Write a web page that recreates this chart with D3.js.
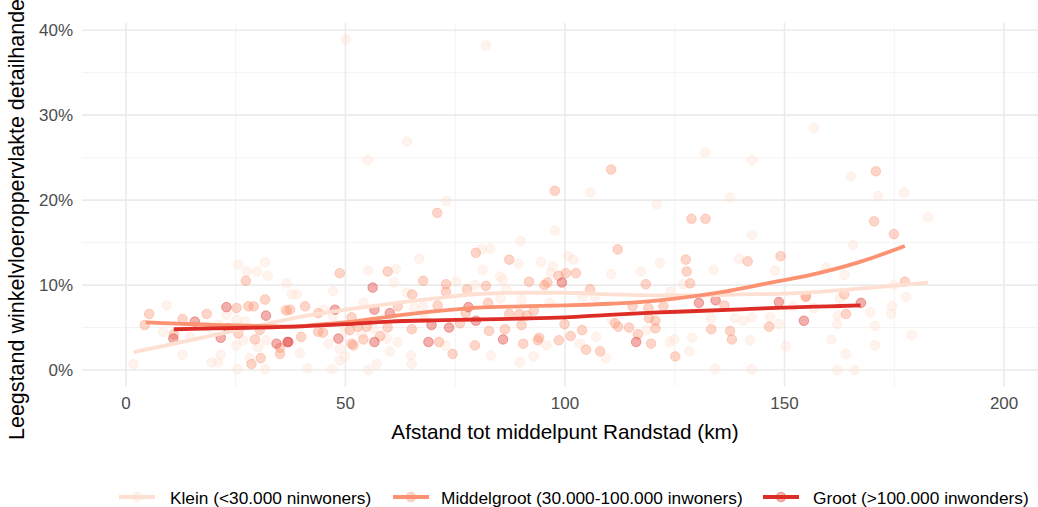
<!DOCTYPE html>
<html>
<head>
<meta charset="utf-8">
<script src="https://cdn.jsdelivr.net/npm/d3@7"></script>
<style>
  body { margin: 0; background: #fff; }
  svg { display: block; }
  text { font-family: "Liberation Sans", Arial, sans-serif; }
</style>
</head>
<body>
<svg id="chart" width="1038" height="507"></svg>
<script>
// Gemeenten: afstand tot Randstad (km) en leegstand winkelvloeroppervlak (%)
const groupLabels = [
  "Klein (<30.000 ninwoners)",
  "Middelgroot (30.000-100.000 inwoners)",
  "Groot (>100.000 inwonders)"
];
const groupColors = ["#fee0d2", "#fc9272", "#de2d26"];

const xTicks = [0, 50, 100, 150, 200];
const xMinorTicks = [25, 75, 125, 175];
const yTicks = [0, 10, 20, 30, 40];
const yMinorTicks = [5, 15, 25, 35];

const kleinPoints = [
  [50.1,38.9],[82,38.2],[64,26.9],[55.1,24.7],[131.9,25.6],[142.6,24.7],[156.7,28.5],
  [165.1,22.8],[171.3,20.5],[177.2,20.9],[182.7,18.0],[165.6,14.7],[105.8,20.9],[120.9,19.5],
  [137.6,20.3],[97.7,16.4],[89.9,15.2],[73,19.9],[142.6,15.9],
  [177.7,8.6],[174.5,7.5],[174.3,6.6],[169.5,6.8],[170.6,5.2],[170.6,2.9],[179,4.1],[164,1.9],
  [162,0],[166,0],[160.6,3.6],[162,5.4],[162.1,6.4],[163.6,11.2],[159.5,12.1],[156.7,7.3],
  [150.3,2.8],[174.9,10],[162.6,8.4],[152,7.5],
  [25.6,12.4],[31.7,12.7],[27.5,11.6],[29.9,11.6],[32.3,11.1],[36.6,10.2],[9.3,7.6],[8.5,4.5],
  [12.9,1.8],[1.7,0.7],[14.6,3.9],[22.9,6.5],[25.2,5.9],[21,5.3],[32,3.5],[25.1,2.9],[19.5,0.9],
  [21,0.9],[21.6,1.8],[25.4,0.1],[31.7,0.1],[28.2,1.4],[26.7,3.5],[18.7,5.1],[30.1,2.7],
  [36.2,7.1],[27.1,5.7],
  [66.8,13.1],[55.2,11.7],[61.5,11.9],[61.1,10.3],[75.2,10.4],[37.8,8.9],[38.9,8.9],[47.2,9.3],
  [63.9,9.1],[54.1,7.9],[45.2,7.1],[65.7,7.3],[49.9,4.7],[61.9,3.3],[59.4,3.7],[46.1,3.1],
  [39.6,2.0],[48.7,2.5],[49.9,1.6],[48.7,1.1],[60.1,2.2],[64.9,1.7],[65.1,0.7],[41.4,0.2],
  [46.9,0.1],[55.2,0],[57.1,0.7],[72.7,2.9],[56.3,4.9],[53.7,4.3],[67.7,7.5],[68,6.1],[47.2,6.3],
  [81,14.2],[82.9,14.3],[89.4,12.5],[94.5,12.7],[97.2,12.2],[81.2,11.8],[100.7,13.4],[101.9,13.0],
  [96.7,11.4],[110.5,11.3],[117.3,11.6],[85.2,11.0],[85.8,10.6],[79.5,10.0],[86.6,9.5],[104,8.6],
  [106.8,8.6],[85.3,8.4],[90.1,8.3],[96.6,7.9],[95.8,2.9],[92.8,1.6],[83.1,1.7],[89.7,0.9],
  [109.3,1.4],[107.1,3.9],[110.6,6.0],[103.4,3.1],
  [121.6,12.6],[139.6,13.1],[147.8,11.7],[133.8,11.8],[127,10.1],[124.1,9.2],[133.3,6.1],
  [138.7,6.1],[140.6,5.8],[142.5,6.2],[146.7,6.2],[148.7,5.4],[142.1,3.5],[129,3.8],[124.9,3.6],
  [123.9,3.3],[128.3,2.2],[134.2,0.1],[142.5,0.1],[118.6,4.7]
];

const middelPoints = [
  [110.5,23.6],[170.8,23.4],[170.4,17.5],[174.9,16],[177.4,10.4],[164,6.6],[163.6,8.9],
  [154.9,8.7],[97.7,21.1],[128.8,17.8],[132,17.8],[70.9,18.5],
  [27.3,10.5],[5.3,6.6],[4.3,5.3],[10.9,4.2],[12.9,6.0],[18.4,6.6],[25.2,7.3],[27.9,7.5],
  [29.1,7.5],[31.7,8.3],[25.6,4.3],[29.4,3.6],[35.1,2.6],[35.1,1.9],[30.7,1.4],[28.6,0.7],
  [36.6,7.0],[30.5,4.7],
  [48.7,11.4],[59.6,11.6],[67.7,10.5],[72.9,10.1],[65.2,8.9],[72.9,9.2],[40.8,7.5],[43.8,6.7],
  [37.4,7.1],[61.9,7.5],[71,7.6],[76.1,5.5],[51.4,6.2],[54.8,5.1],[59.6,5.0],[65.1,4.8],
  [52.8,5.1],[51,4.7],[43.8,4.5],[44.9,4.4],[39.9,3.9],[54.1,3.6],[57.9,4.0],[51.4,3.1],
  [51.8,2.9],[71.3,3.3],[74.4,1.9],
  [79.7,13.8],[87.3,13.0],[100.2,11.4],[102.5,11.4],[98.5,11.1],[112,14.2],[91.8,10.4],
  [95.3,10.0],[96,10.3],[82,9.9],[77.7,9.5],[105.7,9.5],[82.5,7.9],[77.4,6.7],[87.3,6.6],
  [89.6,6.6],[91.3,6.4],[92.9,7.0],[90.1,5.3],[82.7,4.6],[86.3,4.8],[90.5,3.1],[94.1,3.8],
  [93.8,3.5],[98.6,3.5],[99.9,5.4],[101.3,4.0],[103.9,4.7],[79.5,2.9],[104.8,2.4],[108,2.2],
  [111.4,5.5],[112.1,5.1],[114.6,5.0],[115.4,7.5],
  [127.5,13.0],[127.7,11.6],[128.5,10.2],[118.4,10.1],[141.6,12.8],[149.1,13.4],[136.3,7.6],
  [154.8,8.6],[119,7.3],[122.4,7.5],[119.1,6.1],[120.6,5.8],[120.6,4.9],[116.6,4.2],[119.6,3.1],
  [133.3,4.8],[137.6,4.6],[138,3.6],[146.5,5.1],[125.1,1.6]
];

const grootPoints = [
  [167.4,7.9],[154.4,5.8],[148.7,8.0],
  [10.8,3.7],[15.7,5.7],[22.9,7.4],[31.9,6.4],[21.6,3.8],[23.3,4.9],[34.3,3.1],[36.8,3.3],
  [56.2,9.7],[56.6,7.1],[47.6,7.1],[60.1,6.7],[69.6,5.3],[73.6,5.0],[37,3.3],[48.4,3.7],
  [56.6,3.3],[68.9,3.3],
  [99.3,10.3],[78,7.4],[79.7,5.8],[85.9,3.6],[116.2,3.3],
  [130.5,7.9],[134.3,8.2]
];

// Loess-trends per groep
const kleinSmooth = [
  [1.8,2.1],[10,3.0],[20,4.1],[30,5.2],[40,6.3],[50,7.1],[60,7.8],[70,8.4],[80,8.95],
  [90,9.1],[100,9.1],[110,8.9],[120,8.8],[130,8.8],[140,8.9],[150,9.0],[160,9.3],[170,9.7],[182.7,10.3]
];
const middelSmooth = [
  [4.5,5.6],[10,5.5],[20,5.3],[30,5.2],[37,5.1],[45,5.4],[50,5.6],[60,6.3],[70,6.9],[80,7.35],
  [90,7.5],[100,7.6],[110,7.8],[117,8.0],[125,8.4],[136,9.2],[146,10.2],[156,11.2],[167,12.7],[177.4,14.6]
];
const grootSmooth = [
  [10.9,4.8],[20,4.9],[30,5.0],[40,5.15],[50,5.4],[60,5.7],[70,5.85],[80,5.95],[90,6.05],
  [100,6.2],[110,6.5],[120,6.75],[130,6.95],[140,7.15],[150,7.35],[160,7.5],[167.3,7.6]
];

const pointSets = [kleinPoints, middelPoints, grootPoints];
const smoothSets = [kleinSmooth, middelSmooth, grootSmooth];

const svg = d3.select("#chart");
const panel = { left: 82, right: 1048, top: 23, bottom: 386.6 };

const x = d3.scaleLinear().domain([-10, 210]).range([panel.left, panel.right]);
const y = d3.scaleLinear().domain([-1.95, 40.85]).range([panel.bottom, panel.top]);

const defs = svg.append("defs");
defs.append("clipPath").attr("id", "panelClip")
  .append("rect")
  .attr("x", panel.left).attr("y", panel.top)
  .attr("width", panel.right - panel.left).attr("height", panel.bottom - panel.top);

// Rasterlijnen
const grid = svg.append("g");
grid.selectAll(".ymin").data(yMinorTicks).join("line")
  .attr("x1", panel.left).attr("x2", panel.right)
  .attr("y1", d => y(d)).attr("y2", d => y(d))
  .attr("stroke", "#f2f2f2").attr("stroke-width", 0.9);
grid.selectAll(".xmin").data(xMinorTicks).join("line")
  .attr("y1", panel.top).attr("y2", panel.bottom)
  .attr("x1", d => x(d)).attr("x2", d => x(d))
  .attr("stroke", "#f2f2f2").attr("stroke-width", 0.9);
grid.selectAll(".ymaj").data(yTicks).join("line")
  .attr("x1", panel.left).attr("x2", panel.right)
  .attr("y1", d => y(d)).attr("y2", d => y(d))
  .attr("stroke", "#ebebeb").attr("stroke-width", 1.6);
grid.selectAll(".xmaj").data(xTicks).join("line")
  .attr("y1", panel.top).attr("y2", panel.bottom)
  .attr("x1", d => x(d)).attr("x2", d => x(d))
  .attr("stroke", "#ebebeb").attr("stroke-width", 1.6);

// Punten
const plot = svg.append("g").attr("clip-path", "url(#panelClip)");
pointSets.forEach((pts, i) => {
  plot.append("g").selectAll("circle").data(pts).join("circle")
    .attr("cx", d => x(d[0])).attr("cy", d => y(d[1])).attr("r", 4.8)
    .attr("fill", groupColors[i]).attr("fill-opacity", 0.38)
    .attr("stroke", groupColors[i]).attr("stroke-opacity", 0.38).attr("stroke-width", 1);
});

// Trendlijnen
const line = d3.line().x(d => x(d[0])).y(d => y(d[1])).curve(d3.curveMonotoneX);
smoothSets.forEach((s, i) => {
  plot.append("path").datum(s)
    .attr("d", line)
    .attr("fill", "none")
    .attr("stroke", groupColors[i])
    .attr("stroke-width", 3.8);
});

// Asteksten
svg.append("g").selectAll("text").data(yTicks).join("text")
  .attr("x", 73).attr("y", d => y(d) + 6)
  .attr("text-anchor", "end")
  .attr("font-size", 17).attr("fill", "#4d4d4d")
  .text(d => d + "%");

svg.append("g").selectAll("text").data(xTicks).join("text")
  .attr("x", d => x(d)).attr("y", 409)
  .attr("text-anchor", "middle")
  .attr("font-size", 17).attr("fill", "#4d4d4d")
  .text(d => d);

svg.append("text")
  .attr("x", (panel.left + panel.right) / 2).attr("y", 439)
  .attr("text-anchor", "middle")
  .attr("font-size", 20.7).attr("fill", "#000")
  .text("Afstand tot middelpunt Randstad (km)");

svg.append("text")
  .attr("transform", "translate(23.5,440) rotate(-90)")
  .attr("text-anchor", "start")
  .attr("font-size", 21.5).attr("fill", "#000")
  .text("Leegstand winkelvloeroppervlakte detailhandel");

// Legenda
const legendCenters = [137, 411, 781];
const legendTextX = [170, 441, 813];
const legendY = 497;
const legend = svg.append("g");
groupLabels.forEach((lab, i) => {
  const cx = legendCenters[i];
  legend.append("line")
    .attr("x1", cx - 18).attr("x2", cx + 18)
    .attr("y1", legendY).attr("y2", legendY)
    .attr("stroke", groupColors[i]).attr("stroke-width", 3.8);
  legend.append("circle")
    .attr("cx", cx).attr("cy", legendY).attr("r", 4.8)
    .attr("fill", groupColors[i]).attr("fill-opacity", 0.38)
    .attr("stroke", groupColors[i]).attr("stroke-opacity", 0.38);
  legend.append("text")
    .attr("x", legendTextX[i]).attr("y", legendY + 6.5)
    .attr("font-size", 17.3).attr("fill", "#000")
    .text(lab);
});
</script>
</body>
</html>
